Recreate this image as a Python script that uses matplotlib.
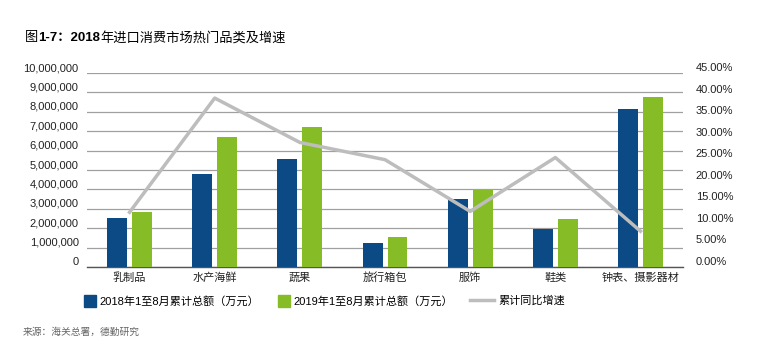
import numpy as np
import matplotlib
matplotlib.use("Agg")
import matplotlib.pyplot as plt
from matplotlib.lines import Line2D
from matplotlib.ticker import FuncFormatter, FixedLocator

plt.rcParams['font.family'] = ['Liberation Sans', 'Noto Sans CJK SC', 'DejaVu Sans']

categories = ['乳制品', '水产海鲜', '蔬果', '旅行箱包', '服饰', '鞋类', '钟表、摄影器材']
total_2018 = [2540000, 4790000, 5570000, 1250000, 3500000, 1970000, 8140000]
total_2019 = [2830000, 6720000, 7220000, 1560000, 3970000, 2470000, 8780000]
growth = [0.127, 0.392, 0.289, 0.249, 0.129, 0.254, 0.083]

blue = '#0b4a84'
green = '#86bc25'
gray_line = '#bdbdbd'

fig = plt.figure(figsize=(7.59, 3.48), dpi=100)
ax = fig.add_axes([0.1146, 0.2328, 0.7854, 0.5572])

x = np.arange(len(categories))
w = 0.234
ax.bar(x - 0.146, total_2018, width=w, color=blue, zorder=3)
ax.bar(x + 0.146, total_2019, width=w, color=green, zorder=3)

ax.set_xlim(-0.5, len(categories) - 0.5)
ax.set_ylim(0, 10000000)
ax.yaxis.set_major_locator(FixedLocator(np.arange(0, 10000001, 1000000)))
ax.yaxis.set_major_formatter(FuncFormatter(lambda v, p: '{:,.0f}'.format(v)))
ax.grid(axis='y', color='#a0a0a0', linewidth=0.9, zorder=0)
ax.set_xticks(x)
ax.set_xticklabels(categories, fontsize=8)
ax.tick_params(axis='both', length=0, labelsize=8, colors='#222222')
ax.tick_params(axis='y', pad=6)
ax.tick_params(axis='x', pad=4)
for s in ['top', 'right', 'left']:
    ax.spines[s].set_visible(False)
ax.spines['bottom'].set_color('#555555')
ax.spines['bottom'].set_linewidth(1.0)
for lab in ax.get_yticklabels():
    lab.set_va('bottom')

ax2 = ax.twinx()
ax2.plot(x, growth, color=gray_line, linewidth=2.5, zorder=4)
ax2.set_ylim(0, 0.45)
ax2.yaxis.set_major_locator(FixedLocator(np.arange(0, 0.451, 0.05)))
ax2.yaxis.set_major_formatter(FuncFormatter(lambda v, p: '{:.2f}%'.format(v * 100)))
ax2.tick_params(axis='y', length=0, labelsize=8, colors='#222222', pad=9)
for s in ['top', 'right', 'left', 'bottom']:
    ax2.spines[s].set_visible(False)
for lab in ax2.get_yticklabels():
    lab.set_va('bottom')

# title with bold numbers
parts = [('图', 'normal'), ('1-7：2018', 'bold'), ('年进口消费市场热门品类及增速', 'normal')]
fig.canvas.draw()
r = fig.canvas.get_renderer()
xpos = 25
for txt, wt in parts:
    t = fig.text(xpos / 759, 1 - 38 / 348, txt, fontsize=9.5, fontweight=wt, va='center', ha='left')
    xpos += t.get_window_extent(renderer=r).width

# legend, one entry at a time
entries = [
    (Line2D([], [], marker='s', linestyle='none', markersize=8.5, color=blue),
     '2018年1至8月累计总额（万元）', 84, 1.0),
    (Line2D([], [], marker='s', linestyle='none', markersize=8.5, color=green),
     '2019年1至8月累计总额（万元）', 278, 1.0),
    (Line2D([], [], color=gray_line, linewidth=2.5),
     '累计同比增速', 470, 2.2),
]
for h, lab, px, hl in entries:
    fig.legend([h], [lab], loc='center left', bbox_to_anchor=(px / 759, 1 - 301 / 348),
               frameon=False, fontsize=8, handlelength=hl, handletextpad=0.35,
               borderpad=0, borderaxespad=0)

fig.text(23 / 759, 1 - 332 / 348, '来源：海关总署，德勤研究', fontsize=7, color='#666666',
         va='center', ha='left')

fig.savefig('out.png', dpi=100)
